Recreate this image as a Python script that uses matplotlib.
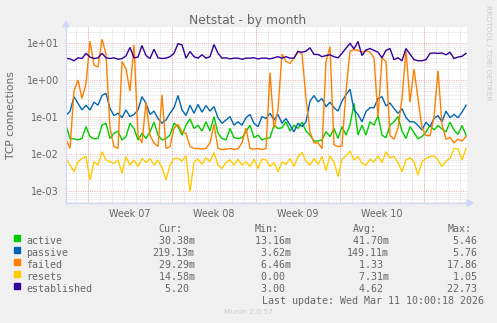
import numpy as np
import matplotlib
matplotlib.use('Agg')
import matplotlib.pyplot as plt
from matplotlib.patches import Rectangle, Polygon

# ---------------- data (log10 of TCP connections, one sample every 8 h) ----
active_log10 = [
    -1.22, -1.58, -1.59, -1.62, -1.58, -1.26, -1.53, -1.59, -1.58, -1.22, -1.17, -1.58, -1.44,
    -1.38, -1.62, -1.53, -1.17, -1.31, -1.62, -1.44, -1.58, -1.40, -1.14, -1.49, -1.62,
    -1.58, -1.49, -1.17, -1.26, -1.49, -1.22, -1.05, -1.31, -1.22, -1.38, -1.13, -1.38, -0.99,
    -1.44, -1.58, -1.62, -1.31, -1.56, -1.58, -1.56, -1.40, -1.22, -1.56, -1.49, -1.62,
    -1.58, -1.56, -1.22, -1.31, -1.29, -1.13, -1.38, -1.22, -1.31, -1.14, -1.38, -1.49, -1.65,
    -1.65, -1.62, -1.40, -1.53, -1.31, -1.58, -1.26, -1.49, -1.22, -0.63, -1.49, -1.22,
    -1.49, -1.13, -1.22, -0.96, -1.49, -1.56, -1.22, -1.13, -0.99, -1.38, -1.58, -1.26, -1.42,
    -1.59, -1.53, -1.40, -1.23, -1.35, -1.23, -1.32, -1.40, -1.14, -1.35, -1.47, -1.23, -1.49]
passive_log10 = [
    -0.95, -0.85, -0.45, -0.63, -0.81, -0.68, -0.81, -0.60, -0.68, -0.42, -0.36, -0.77, -0.96,
    -0.90, -1.02, -0.81, -0.99, -0.93, -0.81, -0.45, -0.63, -0.93, -0.84, -1.04, -1.17,
    -1.08, -0.90, -0.75, -0.42, -0.81, -0.96, -0.68, -0.90, -0.66, -0.87, -0.69, -0.84, -0.72,
    -1.02, -1.17, -1.08, -0.99, -1.22, -1.13, -1.22, -1.02, -0.93, -1.17, -1.26, -0.99,
    -1.04, -0.90, -1.08, -0.93, -1.17, -1.04, -1.22, -1.40, -1.17, -1.26, -1.13, -0.57, -0.42,
    -0.59, -0.50, -0.72, -0.60, -0.75, -0.84, -0.57, -0.40, -0.25, -0.81, -0.93, -1.13,
    -0.85, -0.75, -0.75, -0.50, -0.45, -0.70, -0.62, -0.77, -0.90, -0.78, -1.02, -1.13, -1.13,
    -1.23, -1.35, -1.14, -1.26, -1.04, -0.96, -1.13, -0.84, -1.02, -0.93, -1.02, -0.87, -0.68]
failed_log10 = [
    -1.60, -1.85, -0.30, 0.00, -0.50, -0.10, 1.05, 0.40, 0.35, 1.10, 0.70, -1.30, -1.80,
    -1.85, 0.50, 0.30, -0.30, 0.95, -1.50, -1.70, -0.60, -1.50, -1.70, -1.80, -0.40,
    -1.85, -1.80, -1.30, -1.20, -1.40, -1.45, -1.80, -1.85, -1.85, -1.87, -1.85, -1.70, -1.20,
    -1.85, -1.88, -1.87, -1.85, -1.88, -1.86, -1.70, -1.30, -1.85, -1.87, -1.85, -1.88,
    -1.85, 0.20, -1.30, -0.80, 0.70, 0.50, 0.45, 0.60, 0.78, 0.70, -0.50, -1.40, -1.70,
    -1.70, -1.85, 0.50, 0.90, -1.75, -1.80, -1.78, -0.30, 0.78, 0.82, 0.80, 0.75,
    0.80, 0.75, 0.60, -1.00, 0.60, 0.50, -1.50, -1.60, -1.30, -0.50, 0.80, -0.60, 0.30,
    -0.50, -1.30, -1.50, -1.50, -1.00, 0.25, -1.20, -1.60, -1.55, -1.70, -1.60, -1.65, -1.53]
resets_log10 = [
    -2.12, -2.30, -2.48, -2.21, -2.12, -2.07, -2.70, -2.21, -2.30, -1.94, -2.16, -2.21, -2.25,
    -2.16, -2.52, -2.07, -2.30, -2.16, -2.34, -2.12, -2.23, -2.12, -2.30, -2.16, -2.37,
    -2.70, -2.30, -2.12, -2.12, -2.19, -2.05, -3.02, -2.21, -2.14, -2.28, -2.10, -2.21, -1.96,
    -2.30, -2.39, -2.23, -2.16, -2.30, -2.14, -2.30, -2.21, -2.34, -2.14, -2.39, -2.14,
    -2.16, -2.34, -2.23, -2.48, -2.21, -2.28, -2.12, -2.34, -2.07, -1.96, -2.19, -2.30, -2.12,
    -2.28, -2.07, -2.45, -2.05, -2.21, -2.61, -2.14, -2.05, -1.92, -2.16, -2.07, -2.25,
    -2.30, -2.14, -2.21, -2.05, -2.23, -1.94, -2.10, -2.07, -2.23, -2.48, -2.16, -2.10, -2.21,
    -2.57, -2.21, -2.12, -2.07, -2.05, -2.16, -2.34, -2.19, -2.12, -1.85, -1.86, -2.16, -1.85]
established_log10 = [
    0.59, 0.57, 0.52, 0.60, 0.58, 0.72, 0.62, 0.58, 0.60, 0.72, 0.60, 0.58, 0.60,
    0.56, 0.58, 0.65, 0.88, 0.60, 0.62, 0.93, 0.66, 0.58, 0.83, 0.60, 0.58,
    0.59, 0.63, 0.72, 0.98, 0.95, 0.59, 0.77, 0.63, 0.59, 0.68, 0.59, 0.63, 0.96,
    0.72, 0.59, 0.60, 0.57, 0.59, 0.59, 0.56, 0.59, 0.59, 0.60, 0.57, 0.59,
    0.59, 0.57, 0.60, 0.63, 0.59, 0.63, 0.59, 0.59, 0.77, 0.75, 0.78, 0.87, 0.69,
    0.69, 0.63, 0.66, 0.68, 0.63, 0.60, 0.72, 0.86, 0.99, 0.84, 1.04, 0.66,
    0.81, 0.85, 0.80, 0.75, 0.60, 0.80, 0.85, 0.55, 0.60, 0.52, 0.85, 0.70, 0.55,
    0.52, 0.52, 0.55, 0.72, 0.73, 0.72, 0.73, 0.68, 0.75, 0.58, 0.62, 0.64, 0.72]

sample_step_days = 1.0 / 3.0
week_labels = ['Week 07', 'Week 08', 'Week 09', 'Week 10']
week_starts = [1.833, 8.833, 15.833, 22.833, 29.833]

series_names = ['active', 'passive', 'failed', 'resets', 'established']
series_colors = ['#00CC00', '#0066B3', '#FF8000', '#FFCC00', '#330099']
cur_vals = ['30.38m', '219.13m', '29.29m', '14.58m', '5.20']
min_vals = ['13.16m', '3.62m', '6.46m', '0.00', '3.00']
avg_vals = ['41.70m', '149.11m', '1.33', '7.31m', '4.62']
max_vals = ['5.46', '5.76', '17.86', '1.05', '22.73']
last_update = 'Last update: Wed Mar 11 10:00:18 2026'

series_logs = [active_log10, passive_log10, failed_log10, resets_log10, established_log10]

# ---------------- figure -----------------------------------------------------
W, H = 497, 323
fig = plt.figure(figsize=(W / 100, H / 100), dpi=100, facecolor='#F0F0F0')


def fx(px):
    return px / W


def fy(py):
    return 1 - py / H


L, R, T, B = 66, 467, 27, 203
ax = fig.add_axes([fx(L), fy(B), (R - L) / W, (B - T) / H])
ax.set_facecolor('white')
ax.set_yscale('log')
ax.set_xlim(0, (R - L) / 12.0)
ax.set_ylim(10 ** -3.324, 10 ** 1.432)

FONT = '#666666'
grid_c = '#d2d2d2'
mgrid_c = '#eeaaaa'
dot = (0, (1, 1.4))

# minor grid
for dec in range(-4, 2):
    for m in range(2, 10):
        ax.axhline(m * 10.0 ** dec, color=grid_c, lw=0.6, ls=dot, zorder=0.5)
for d in np.arange(0.833, 33.5, 1.0):
    ax.axvline(d, color=grid_c, lw=0.6, ls=dot, zorder=0.5)
# major grid
for dec in range(-3, 2):
    ax.axhline(10.0 ** dec, color=mgrid_c, lw=0.7, ls=dot, zorder=0.6)
for d in week_starts:
    ax.axvline(d, color=mgrid_c, lw=0.7, ls=dot, zorder=0.6)

x = np.arange(len(active_log10)) * sample_step_days
for logs, col in zip(series_logs, series_colors):
    ax.plot(x, 10 ** np.array(logs), color=col, lw=1.0, zorder=2, solid_joinstyle='miter')

ax.set_yticks([1e-3, 1e-2, 1e-1, 1, 10])
ax.set_yticklabels(['1e-03', '1e-02', '1e-01', '1e+00', '1e+01'])
ax.yaxis.set_minor_locator(matplotlib.ticker.NullLocator())
ax.set_xticks([w + 3.5 for w in week_starts[:4]])
ax.set_xticklabels(week_labels)
ax.tick_params(axis='both', length=0, colors=FONT, labelsize=6.9)
ax.tick_params(axis='y', pad=5)
ax.tick_params(axis='x', pad=4)

for s in ['top', 'right']:
    ax.spines[s].set_visible(False)
for s in ['left', 'bottom']:
    ax.spines[s].set_color('#CFD6F8')
    ax.spines[s].set_linewidth(0.8)

# arrows
fig.patches.append(Polygon([[fx(467), fy(200)], [fx(473), fy(203)], [fx(467), fy(206)]],
                           closed=True, transform=fig.transFigure, color='#CFD6F8'))
fig.patches.append(Polygon([[fx(63), fy(27)], [fx(66), fy(21)], [fx(69), fy(27)]],
                           closed=True, transform=fig.transFigure, color='#CFD6F8'))

fig.text(fx(248), fy(24), 'Netstat - by month', ha='center', va='baseline',
         fontsize=8.9, color=FONT)
fig.text(fx(11), fy(115), 'TCP connections', rotation=90, ha='center', va='center',
         fontsize=7.7, color=FONT)
fig.text(fx(488), fy(5), 'RRDTOOL / TOBI OETIKER', rotation=270, ha='center', va='top',
         fontsize=5.4, color='#cccccc')

mono = dict(family='DejaVu Sans Mono', fontsize=7.2, color=FONT, va='baseline')
col_starts = [152.7, 249.0, 346.7, 441.3]
headers = ['Cur:', 'Min:', 'Avg:', 'Max:']
for cs, h in zip(col_starts, headers):
    fig.text(fx(cs + 6), fy(231.5), h, ha='left', **mono)

for i, name in enumerate(series_names):
    base = 243.5 + 12 * i
    fig.patches.append(Rectangle((fx(14), fy(base - 3)), 6 / W, 6 / H,
                                 transform=fig.transFigure, color=series_colors[i]))
    fig.text(fx(26), fy(base), name, ha='left', **mono)
    for cs, vals in zip(col_starts, [cur_vals, min_vals, avg_vals, max_vals]):
        v = vals[i]
        s = v if v.endswith('m') else v + ' '
        fig.text(fx(cs), fy(base), s.rjust(7), ha='left', **mono)

fig.text(fx(261.7), fy(303.5), last_update, ha='left', **mono)
fig.text(fx(248), fy(314.5), 'Munin 2.0.57', ha='center', va='baseline',
         fontsize=5.4, color='#cccccc')

fig.savefig('out.png', dpi=100, facecolor=fig.get_facecolor())
